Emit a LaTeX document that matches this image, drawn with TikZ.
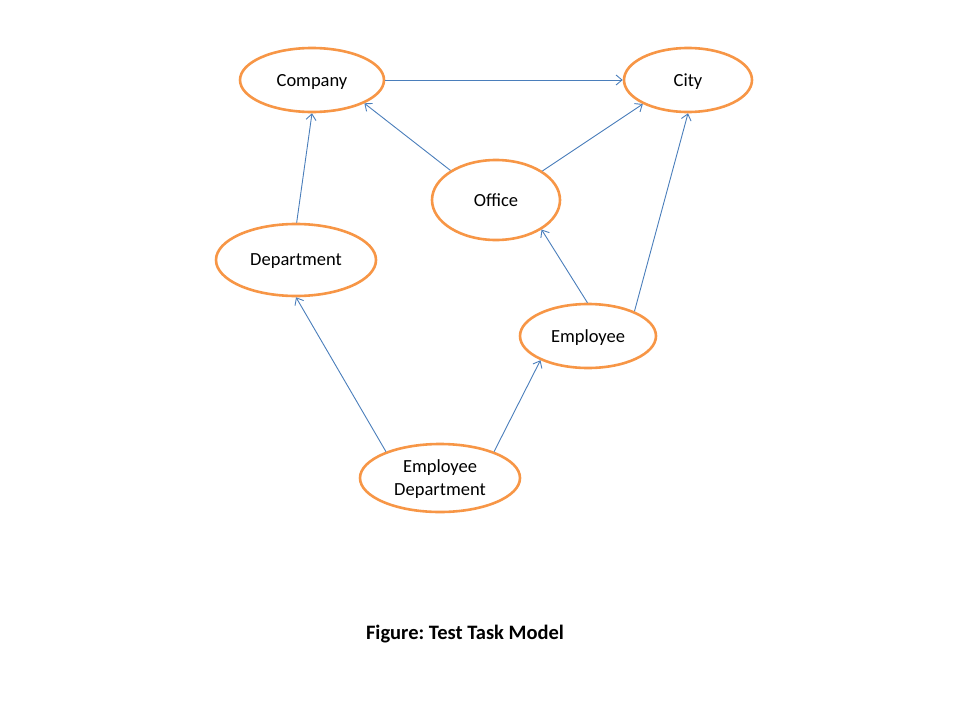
\documentclass[tikz,border=0pt]{standalone}
\usepackage{fontspec}
\setmainfont{Carlito}
\usepackage{tikz}
\usetikzlibrary{shapes}
\usetikzlibrary{arrows.meta,positioning}
\definecolor{boxorange}{HTML}{F79646}
\definecolor{linkblue}{HTML}{4A7EBB}
\frenchspacing

\begin{document}
\begin{tikzpicture}
[x=1pt,y=-1pt,>={Straight Barb[length=6pt,width=10pt]},
 entity/.style={ellipse,draw=boxorange,line width=2.6pt,fill=white,inner sep=0pt,
   text depth=0pt,align=center,font=\fontsize{18.5}{23}\selectfont},
 link/.style={->,draw=linkblue,line width=0.9pt}]
  \useasboundingbox (0,0) rectangle (960,720);
%
  \node[entity,minimum width=144pt,minimum height=64pt] (company) at (312,80) {Company};
  \node[entity,minimum width=128pt,minimum height=64pt] (city)    at (688,80) {City};
  \node[entity,minimum width=128pt,minimum height=80pt] (office)  at (496,200) {Office};
  \node[entity,minimum width=160pt,minimum height=72pt] (dept)    at (296,260) {Department};
  \node[entity,minimum width=136pt,minimum height=64pt] (emp)     at (588,336) {Employee};
  \node[entity,minimum width=160pt,minimum height=68pt] (empdept) at (440,478) {Employee\\Department};
%
  \draw[link] (company.east) -- (city.west);
  \draw[link] (office.147) -- (company.336);
  \draw[link] (office.32) -- (city.208);
  \draw[link] (dept.89) -- (company.270);
  \draw[link] (emp.91) -- (office.327);
  \draw[link] (emp.28) -- (city.270);
  \draw[link] (empdept.154) -- (dept.270);
  \draw[link] (empdept.26) -- (emp.207);
%
  \node[font=\bfseries\fontsize{20.5}{24}\selectfont] (caption) at (465,634) {Figure: Test Task Model};
\end{tikzpicture}
\end{document}
